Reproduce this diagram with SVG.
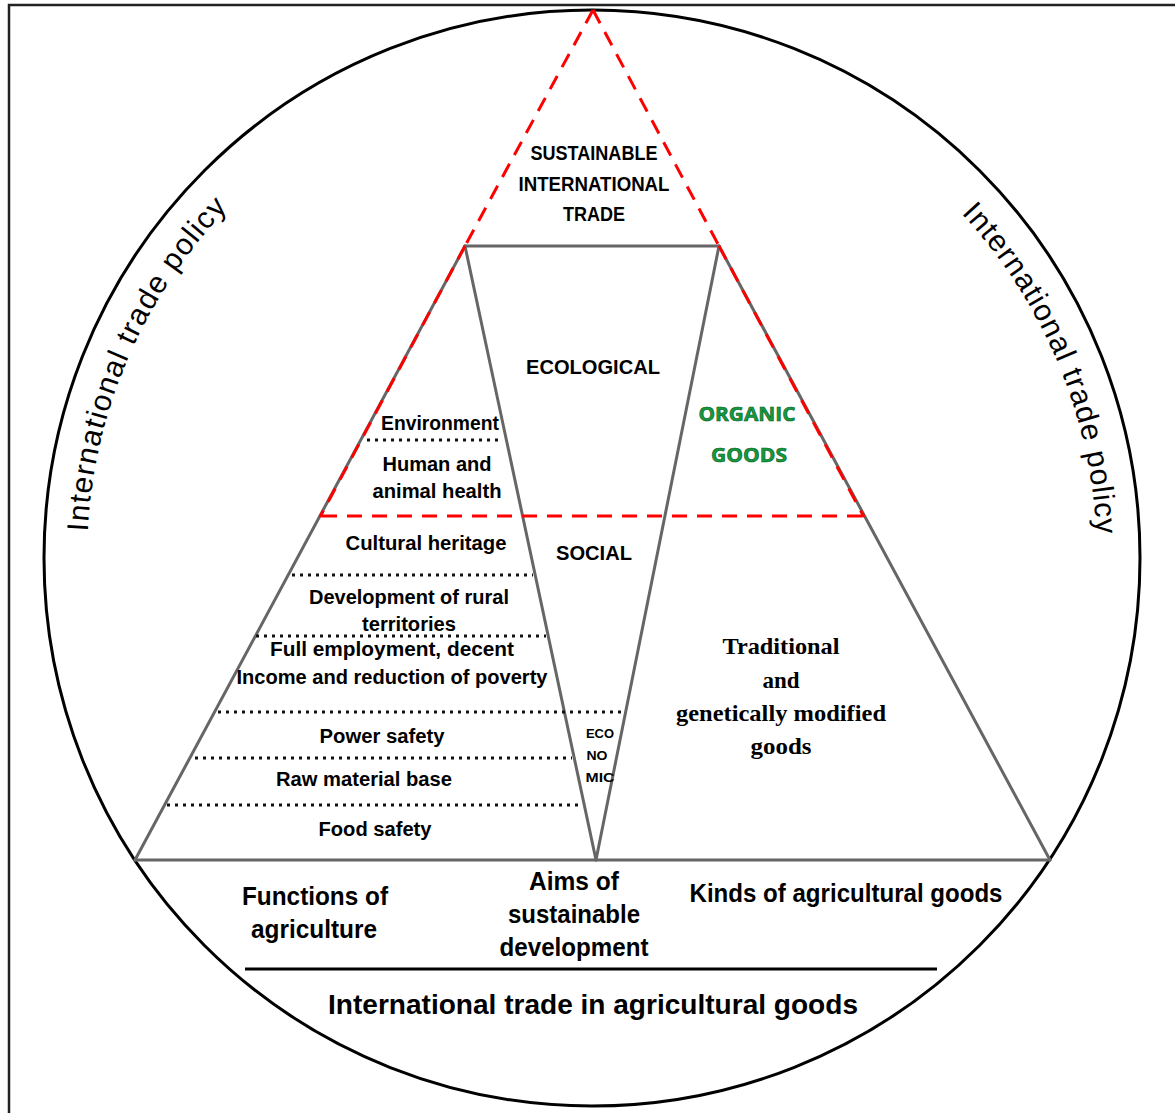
<svg xmlns="http://www.w3.org/2000/svg" xmlns:xlink="http://www.w3.org/1999/xlink" width="1175" height="1113" viewBox="0 0 1175 1113">
<style>
.t{font-family:"Liberation Sans",Arial,sans-serif;font-weight:bold;fill:#000;text-anchor:middle}
.s{font-family:"Liberation Serif","Times New Roman",serif;font-weight:bold;fill:#000;text-anchor:middle;font-size:23px}
.g{stroke:#666;stroke-width:3;fill:none;stroke-linecap:round}
.r{stroke:#f00;stroke-width:3;fill:none;stroke-dasharray:15 10}
.d{stroke:#111;stroke-width:3;fill:none;stroke-dasharray:3 5}
.cv{font-family:"Liberation Sans",Arial,sans-serif;font-size:30px;fill:#000}
.gr{font-family:"Open Sans","Liberation Sans",sans-serif;font-weight:bold;fill:#139a3e;stroke:#0a5a22;stroke-width:0.6;text-anchor:middle;font-size:20px}
</style>
<defs>
<path id="arcL" d="M 87.7 531.6 A 505 505 0 0 1 302.3 144.3"/>
<path id="arcR" d="M 961.3 213.6 A 505 505 0 0 1 1089.3 645.7"/>
</defs>
<rect x="9" y="5" width="1180" height="1120" fill="#fff" stroke="#222" stroke-width="2.5"/>
<g id="circle">
<circle cx="592" cy="558" r="548" fill="none" stroke="#000" stroke-width="3"/>
</g>
<g id="policy-left"><text class="cv"><textPath xlink:href="#arcL" textLength="360">International trade policy</textPath></text></g>
<g id="policy-right"><text class="cv"><textPath xlink:href="#arcR" textLength="355">International trade policy</textPath></text></g>
<g id="connectors">
<line class="g" x1="465" y1="246" x2="719" y2="246"/>
<line class="g" x1="465" y1="246" x2="135" y2="860"/>
<line class="g" x1="719" y1="246" x2="1050" y2="860"/>
<line class="g" x1="465" y1="246" x2="596" y2="860"/>
<line class="g" x1="719" y1="246" x2="596" y2="860"/>
<line class="g" x1="135" y1="860" x2="1050" y2="860"/>
<line class="r" x1="593" y1="10" x2="465" y2="246"/>
<line class="r" x1="593" y1="10" x2="719" y2="246"/>
<line class="r" x1="465" y1="246" x2="320" y2="517"/>
<line class="r" x1="719" y1="246" x2="864" y2="517"/>
<line class="r" x1="322" y1="516" x2="864" y2="516"/>
<line class="d" x1="367" y1="440" x2="502" y2="440"/>
<line class="d" x1="292" y1="575" x2="533" y2="575"/>
<line class="d" x1="256" y1="636" x2="546" y2="636"/>
<line class="d" x1="218" y1="712" x2="626" y2="712"/>
<line class="d" x1="195" y1="758" x2="572" y2="758"/>
<line class="d" x1="167" y1="805" x2="580" y2="805"/>
<line x1="245" y1="969" x2="937" y2="969" stroke="#000" stroke-width="3"/>
</g>
<g id="sustainable-trade">
<text class="t" font-size="20" x="594" y="160" textLength="127" lengthAdjust="spacingAndGlyphs">SUSTAINABLE</text>
<text class="t" font-size="20" x="594" y="191" textLength="151" lengthAdjust="spacingAndGlyphs">INTERNATIONAL</text>
<text class="t" font-size="20" x="594" y="221" textLength="62" lengthAdjust="spacingAndGlyphs">TRADE</text>
</g>
<g id="ecological"><text class="t" font-size="20" x="593" y="374" textLength="134" lengthAdjust="spacingAndGlyphs">ECOLOGICAL</text></g>
<g id="social"><text class="t" font-size="20" x="594" y="560" textLength="76" lengthAdjust="spacingAndGlyphs">SOCIAL</text></g>
<g id="economic">
<text class="t" font-size="13" x="600" y="738" textLength="28" lengthAdjust="spacingAndGlyphs">ECO</text>
<text class="t" font-size="13" x="597" y="760" textLength="21" lengthAdjust="spacingAndGlyphs">NO</text>
<text class="t" font-size="13" x="600" y="782" textLength="29" lengthAdjust="spacingAndGlyphs">MIC</text>
</g>
<g id="environment"><text class="t" font-size="20" x="440" y="430" textLength="118" lengthAdjust="spacingAndGlyphs">Environment</text></g>
<g id="health">
<text class="t" font-size="20" x="437" y="471" textLength="109" lengthAdjust="spacingAndGlyphs">Human and</text>
<text class="t" font-size="20" x="437" y="498" textLength="129" lengthAdjust="spacingAndGlyphs">animal health</text>
</g>
<g id="cultural"><text class="t" font-size="20" x="426" y="550" textLength="161" lengthAdjust="spacingAndGlyphs">Cultural heritage</text></g>
<g id="rural">
<text class="t" font-size="20" x="409" y="604" textLength="200" lengthAdjust="spacingAndGlyphs">Development of rural</text>
<text class="t" font-size="20" x="409" y="631" textLength="94" lengthAdjust="spacingAndGlyphs">territories</text>
</g>
<g id="employment">
<text class="t" font-size="20" x="392" y="656" textLength="244" lengthAdjust="spacingAndGlyphs">Full employment,  decent</text>
<text class="t" font-size="20" x="392" y="684" textLength="311" lengthAdjust="spacingAndGlyphs">Income and reduction of poverty</text>
</g>
<g id="power"><text class="t" font-size="20" x="382" y="743" textLength="125" lengthAdjust="spacingAndGlyphs">Power safety</text></g>
<g id="raw"><text class="t" font-size="20" x="364" y="786" textLength="176" lengthAdjust="spacingAndGlyphs">Raw material base</text></g>
<g id="food"><text class="t" font-size="20" x="375" y="836" textLength="113" lengthAdjust="spacingAndGlyphs">Food safety</text></g>
<g id="organic">
<text class="gr" x="747" y="421" textLength="97" lengthAdjust="spacingAndGlyphs">ORGANIC</text>
<text class="gr" x="749" y="462" textLength="76" lengthAdjust="spacingAndGlyphs">GOODS</text>
</g>
<g id="traditional">
<text class="s" x="781" y="654" textLength="117" lengthAdjust="spacingAndGlyphs">Traditional</text>
<text class="s" x="781" y="688">and</text>
<text class="s" x="781" y="721" textLength="210" lengthAdjust="spacingAndGlyphs">genetically modified</text>
<text class="s" x="781" y="754" textLength="61" lengthAdjust="spacingAndGlyphs">goods</text>
</g>
<g id="functions">
<text class="t" font-size="25" x="315" y="905" textLength="146" lengthAdjust="spacingAndGlyphs">Functions of</text>
<text class="t" font-size="25" x="314" y="938" textLength="126" lengthAdjust="spacingAndGlyphs">agriculture</text>
</g>
<g id="aims">
<text class="t" font-size="25" x="574" y="890" textLength="90" lengthAdjust="spacingAndGlyphs">Aims of</text>
<text class="t" font-size="25" x="574" y="923" textLength="132" lengthAdjust="spacingAndGlyphs">sustainable</text>
<text class="t" font-size="25" x="574" y="956" textLength="149" lengthAdjust="spacingAndGlyphs">development</text>
</g>
<g id="kinds"><text class="t" font-size="25" x="846" y="902" textLength="313" lengthAdjust="spacingAndGlyphs">Kinds of agricultural goods</text></g>
<g id="trade"><text class="t" font-size="28" x="593" y="1014" textLength="530" lengthAdjust="spacingAndGlyphs">International trade in agricultural goods</text></g>
</svg>
